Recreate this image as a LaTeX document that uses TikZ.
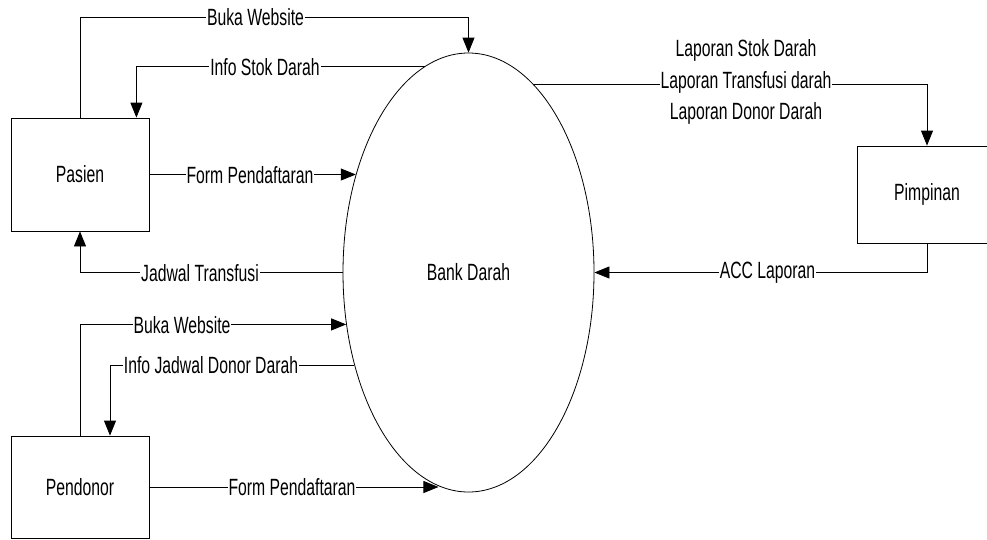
\documentclass[tikz,border=0pt]{standalone}
\usepackage{fontspec}
\setmainfont[FakeStretch=0.67]{Liberation Sans}
\usetikzlibrary{arrows.meta,shapes.geometric}
\begin{document}
\begin{tikzpicture}[x=1pt,y=-1pt,
  every node/.style={font=\fontsize{23.5}{28}\selectfont},
  entity/.style={draw=black,line width=0.8pt,rectangle,inner sep=0pt},
  process/.style={draw=black,line width=0.8pt,ellipse,inner sep=0pt,minimum width=251pt,minimum height=439pt},
  flow/.style={draw=black,line width=0.8pt,-{Triangle[length=15pt,width=12pt]}},
  lbl/.style={fill=white,inner sep=1pt}]
\useasboundingbox (0,0) rectangle (987,539);
% nodes
\node[entity,minimum width=138pt,minimum height=113pt] (pas) at (80,174.5) {Pasien};
\node[entity,minimum width=138pt,minimum height=102pt] (pen) at (80,487) {Pendonor};
\node[entity,minimum width=140pt,minimum height=97pt] (pim) at (927,194.5) {Pimpinan};
\node[process] (bd) at (468.5,272.5) {Bank Darah};
% helper coordinates
\coordinate (r1) at (0,17);
\coordinate (p2) at ([xshift=-13pt]pas.north east);
\coordinate (q2) at ([xshift=30pt]pen.north);
% Pasien flows
\draw[flow] (pas.north) |- (r1 -| bd.north) -- (bd.north);
\node[lbl] at (255.5,17) {Buka Website};
\draw[flow] (bd.102) -| (p2);
\node[lbl] at (265,67) {Info Stok Darah};
\draw[flow] (pas.east) -- (pas.east -| bd.139);
\node[lbl] at (250,175) {Form Pendaftaran};
\draw[flow] (bd.west) -| (pas.south);
\node[lbl] at (200,273) {Jadwal Transfusi};
% Pimpinan flows
\draw[flow] (bd.71.9) -| (pim.north);
\node at (746,50) {Laporan Stok Darah};
\node[lbl] at (746,82) {Laporan Transfusi darah};
\node at (746,113) {Laporan Donor Darah};
\draw[flow] (pim.south) |- (bd.east);
\node[lbl] at (767.5,273) {ACC Laporan};
% Pendonor flows
\draw[flow] (pen.north) |- (bd.203.3);
\node[lbl] at (182,325) {Buka Website};
\draw[flow] (bd.219.1) -| (q2);
\node[lbl] at (211,365) {Info Jadwal Donor Darah};
\draw[flow] (pen.east) -- (pen.east -| bd.262.9);
\node[lbl] at (292,487) {Form Pendaftaran};
\end{tikzpicture}
\end{document}
